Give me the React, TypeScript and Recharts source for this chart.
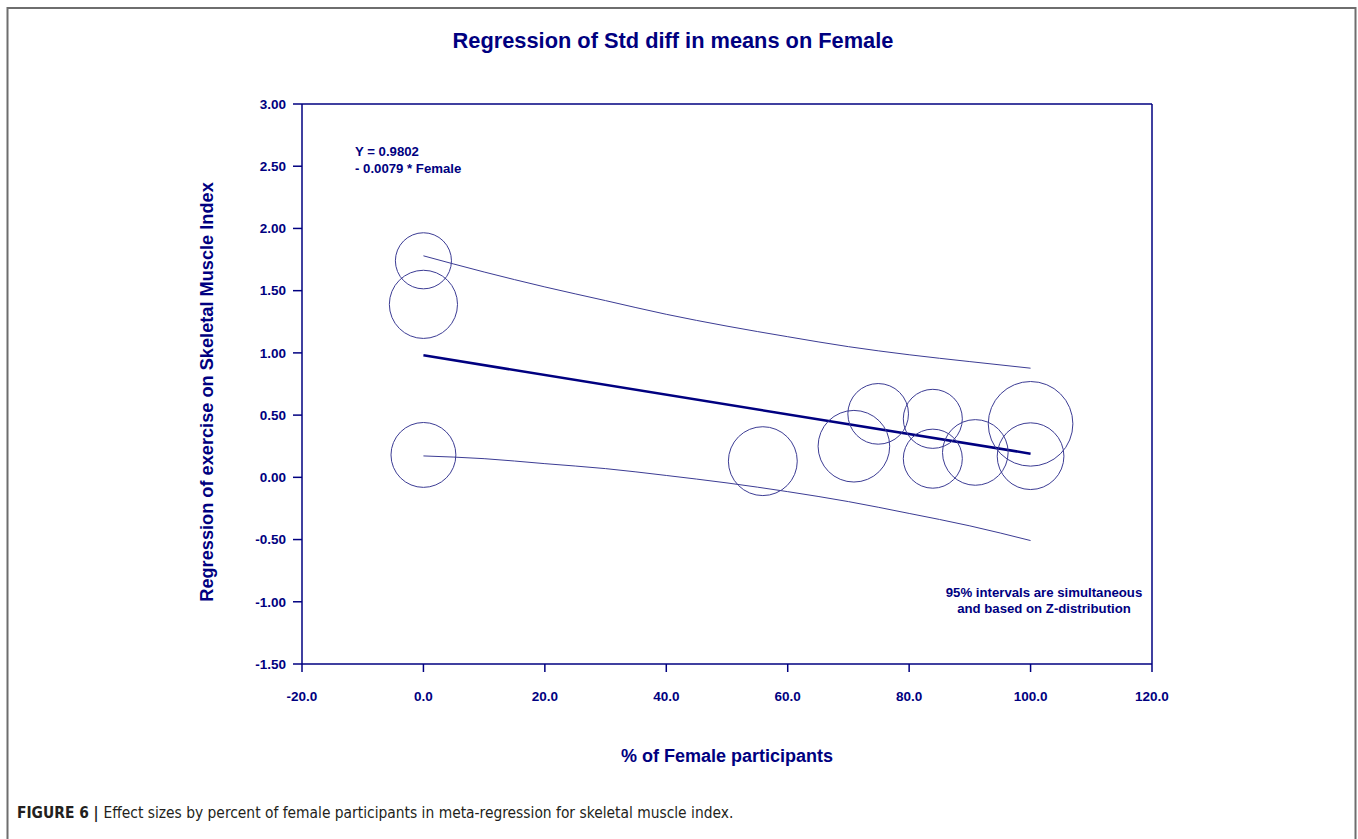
import React from "react";
import {
  ScatterChart,
  Scatter,
  XAxis,
  YAxis,
  ZAxis,
  ReferenceLine,
} from "recharts";

// Studies: % female participants, effect size (std diff in means), relative weight
const femalePct = [0, 0, 0, 55.9, 70.9, 74.9, 83.9, 83.9, 90.9, 100, 100];
const effectSize = [1.74, 1.39, 0.18, 0.13, 0.25, 0.51, 0.47, 0.15, 0.2, 0.43, 0.17];
const studyWeight = [6.5, 9.6, 8.7, 9.8, 10.6, 7.6, 7.2, 7.2, 8.9, 14.8, 9.2];

// Fitted meta-regression
const INTERCEPT = 0.9802;
const SLOPE = -0.0079;
const fitX = [0, 100];

// 95% simultaneous confidence band
const bandX = [0, 10, 20, 30, 40, 50, 60, 70, 80, 90, 100];
const bandUpper = [1.78, 1.65, 1.53, 1.42, 1.31, 1.215, 1.13, 1.05, 0.985, 0.93, 0.877];
const bandLower = [0.172, 0.15, 0.11, 0.07, 0.015, -0.045, -0.115, -0.195, -0.29, -0.39, -0.508];

// Axis ticks
const xTicks = [-20, 0, 20, 40, 60, 80, 100, 120];
const yTicks = [-1.5, -1.0, -0.5, 0, 0.5, 1.0, 1.5, 2.0, 2.5, 3.0];

const studies = femalePct.map((x, i) => ({ x, y: effectSize[i], w: studyWeight[i] }));
const fitLine = fitX.map((x) => ({ x, y: INTERCEPT + SLOPE * x }));
const upperBand = bandX.map((x, i) => ({ x, y: bandUpper[i] }));
const lowerBand = bandX.map((x, i) => ({ x, y: bandLower[i] }));

const NAVY = "#000080";
const FONT = "'Liberation Sans', Arial, sans-serif";

const noPoint = () => <g />;

export default function App() {
  const tickStyle = { fill: NAVY, fontSize: 13.5, fontWeight: 700, fontFamily: FONT };
  return (
    <div
      style={{
        position: "absolute",
        left: 0,
        top: 0,
        width: 1358,
        height: 839,
        background: "#fff",
        overflow: "hidden",
      }}
    >
      <ScatterChart
        width={1358}
        height={839}
        margin={{ top: 104, right: 206, bottom: 145, left: 242 }}
      >
        <XAxis
          type="number"
          dataKey="x"
          domain={[-20, 120]}
          ticks={xTicks}
          allowDataOverflow
          tickFormatter={(v: number) => v.toFixed(1)}
          tick={tickStyle}
          tickSize={8}
          tickMargin={19}
          height={30}
          stroke={NAVY}
          strokeWidth={1.5}
        />
        <YAxis
          type="number"
          dataKey="y"
          domain={[-1.5, 3]}
          ticks={yTicks}
          allowDataOverflow
          tickFormatter={(v: number) => v.toFixed(2)}
          tick={tickStyle}
          tickSize={9}
          tickMargin={7}
          width={60}
          stroke={NAVY}
          strokeWidth={1.5}
        />
        <ZAxis zAxisId="w" dataKey="w" type="number" domain={[0, 15]} range={[0, 5700]} />
        <ReferenceLine y={3} stroke={NAVY} strokeWidth={1.5} />
        <ReferenceLine x={120} stroke={NAVY} strokeWidth={1.5} />

        <Scatter
          data={upperBand}
          line={{ stroke: "#3c3c94", strokeWidth: 1 }}
          lineJointType="monotoneX"
          shape={noPoint}
          fill="none"
          isAnimationActive={false}
        />
        <Scatter
          data={lowerBand}
          line={{ stroke: "#3c3c94", strokeWidth: 1 }}
          lineJointType="monotoneX"
          shape={noPoint}
          fill="none"
          isAnimationActive={false}
        />
        <Scatter
          data={fitLine}
          line={{ stroke: NAVY, strokeWidth: 2.5 }}
          shape={noPoint}
          fill="none"
          isAnimationActive={false}
        />
        <Scatter
          data={studies}
          zAxisId="w"
          fill="none"
          stroke="#3c3c94"
          strokeWidth={1}
          isAnimationActive={false}
        />
      </ScatterChart>

      <svg
        width={1358}
        height={839}
        style={{ position: "absolute", left: 0, top: 0, pointerEvents: "none" }}
      >
        <path d="M7.5 839 V8 H1355.5 V839" fill="none" stroke="#6e6e6e" strokeWidth={2} />
        <text
          x={673}
          y={48}
          textAnchor="middle"
          fill={NAVY}
          fontFamily={FONT}
          fontSize={21.8}
          fontWeight={700}
        >
          Regression of Std diff in means on Female
        </text>
        <text
          transform="translate(213 392) rotate(-90)"
          textAnchor="middle"
          fill={NAVY}
          fontFamily={FONT}
          fontSize={18.2}
          fontWeight={700}
        >
          Regression of exercise on Skeletal Muscle Index
        </text>
        <text
          x={727}
          y={762}
          textAnchor="middle"
          fill={NAVY}
          fontFamily={FONT}
          fontSize={18}
          fontWeight={700}
        >
          % of Female participants
        </text>
        <g fill={NAVY} fontFamily={FONT} fontSize={13.2} fontWeight={700}>
          <text x={355} y={156}>{`Y = ${INTERCEPT.toFixed(4)}`}</text>
          <text x={355} y={173}>{`- ${Math.abs(SLOPE).toFixed(4)} * Female`}</text>
          <text x={1044} y={597} textAnchor="middle">95% intervals are simultaneous</text>
          <text x={1044} y={613} textAnchor="middle">and based on Z-distribution</text>
        </g>
        <text
          x={17}
          y={818}
          fill="#231f20"
          fontFamily="'Liberation Sans Narrow', 'DejaVu Sans Condensed', Arial, sans-serif"
          fontSize={15.4}
        >
          <tspan fontWeight={700}>FIGURE 6 | </tspan>
          Effect sizes by percent of female participants in meta-regression for skeletal muscle index.
        </text>
      </svg>
    </div>
  );
}
